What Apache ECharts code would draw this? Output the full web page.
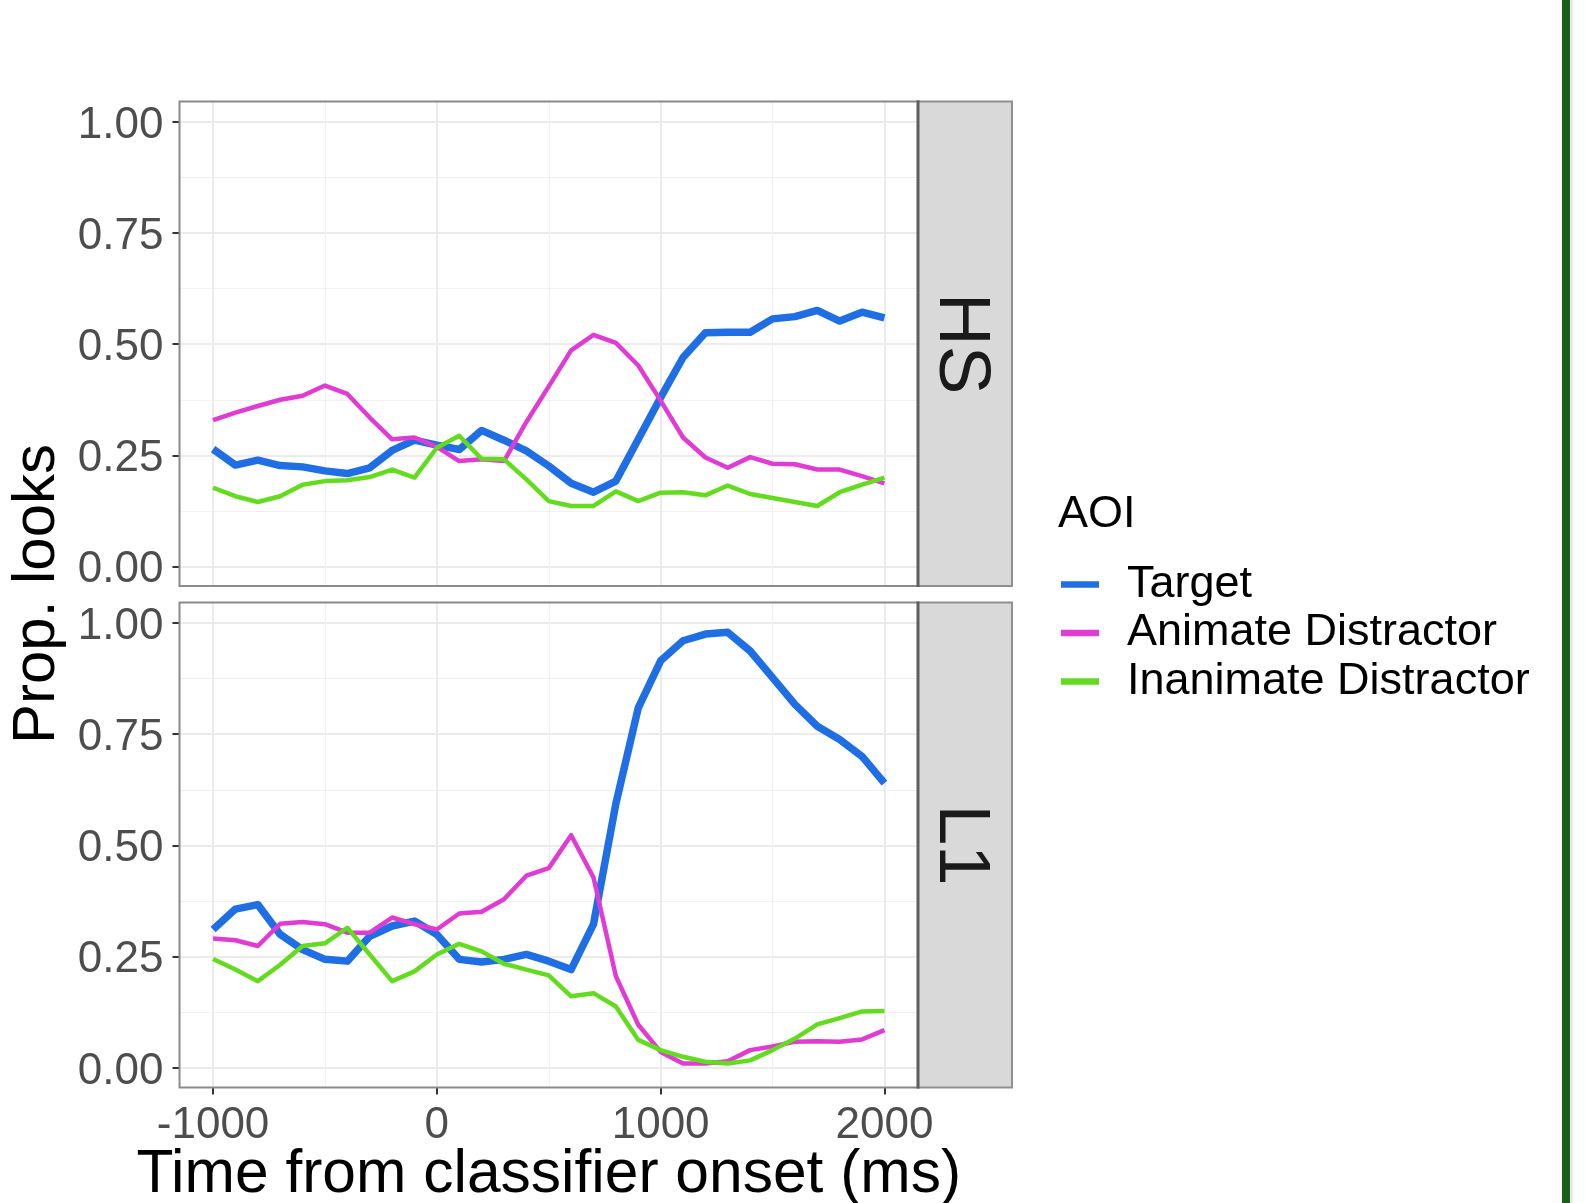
<!DOCTYPE html>
<html>
<head>
<meta charset="utf-8">
<script src="https://cdn.jsdelivr.net/npm/echarts@6/dist/echarts.min.js"></script>
<style>
html,body{margin:0;padding:0;background:#fff;}
#chart{width:1588px;height:1203px;}
</style>
</head>
<body>
<div id="chart"></div>
<script>
// ---- data ----
const timeMs = [-1000,-900,-800,-700,-600,-500,-400,-300,-200,-100,0,100,200,300,400,500,600,700,800,900,1000,1100,1200,1300,1400,1500,1600,1700,1800,1900,2000];
const seriesNames = ['Target','Animate Distractor','Inanimate Distractor'];
const panelNames = ['HS','L1'];

const hsTarget     = [0.264,0.228,0.239,0.227,0.224,0.215,0.209,0.222,0.261,0.284,0.273,0.263,0.306,0.284,0.260,0.226,0.187,0.167,0.192,0.286,0.380,0.470,0.526,0.527,0.527,0.557,0.562,0.576,0.552,0.572,0.559];
const hsAnimate    = [0.329,0.346,0.361,0.375,0.384,0.407,0.388,0.335,0.286,0.290,0.269,0.237,0.241,0.237,0.325,0.405,0.486,0.521,0.503,0.452,0.373,0.290,0.245,0.222,0.246,0.231,0.230,0.218,0.218,0.203,0.187];
const hsInanimate  = [0.177,0.158,0.145,0.158,0.184,0.192,0.194,0.201,0.218,0.200,0.267,0.294,0.242,0.241,0.196,0.147,0.136,0.136,0.169,0.147,0.166,0.167,0.160,0.182,0.163,0.154,0.145,0.136,0.167,0.184,0.200];

const l1Target     = [0.311,0.357,0.367,0.300,0.266,0.244,0.240,0.296,0.319,0.330,0.300,0.244,0.238,0.244,0.255,0.240,0.221,0.323,0.594,0.809,0.915,0.960,0.975,0.979,0.937,0.877,0.817,0.768,0.738,0.700,0.640];
const l1Animate    = [0.291,0.287,0.274,0.324,0.328,0.323,0.304,0.304,0.338,0.323,0.311,0.347,0.351,0.379,0.432,0.449,0.523,0.428,0.206,0.097,0.036,0.010,0.010,0.015,0.040,0.048,0.059,0.060,0.059,0.064,0.085];
const l1Inanimate  = [0.245,0.221,0.195,0.232,0.274,0.280,0.315,0.255,0.195,0.217,0.255,0.279,0.262,0.234,0.221,0.208,0.161,0.168,0.138,0.063,0.040,0.025,0.014,0.010,0.017,0.040,0.066,0.098,0.112,0.127,0.128];

const xMajorTicks = [-1000,0,1000,2000];
const xMinorTicks = [-500,500,1500];
const yMajorTicks = [0,0.25,0.5,0.75,1];
const yMinorTicks = [0.125,0.375,0.625,0.875];

// ---- styles ----
const colors = ['#1f6ee3','#e03bd2','#63db1f'];
const widths = [7.5,4.5,4.5];
const FONT = 'Liberation Sans, Arial, Helvetica, sans-serif';
const P = {left:179.5, width:738.5};
const panels = [{top:101.5,height:484.5},{top:602.5,height:485}];
const yMin = -0.044, yMax = 1.046, xMin = -1150, xMax = 2150;

const panelData = [[hsTarget,hsAnimate,hsInanimate],[l1Target,l1Animate,l1Inanimate]];

const grid = panels.map(p => ({left:P.left, top:p.top, width:P.width, height:p.height, show:false}));

const xAxis = [];
const yAxis = [];
panels.forEach((p, gi) => {
  const isBottom = gi === panels.length - 1;
  xAxis.push({
    type:'value', gridIndex:gi, min:xMin, max:xMax, position:'bottom',
    axisLine:{show:false, onZero:false},
    axisTick:{show:isBottom, customValues:xMajorTicks, length:7, lineStyle:{color:'#333', width:2}},
    axisLabel:{show:isBottom, customValues:xMajorTicks, fontSize:44, color:'#4d4d4d', margin:16, fontFamily:FONT,
      formatter: v => String(v)},
    splitLine:{show:true, lineStyle:{color:'#ebebeb', width:2}}
  });
  yAxis.push({
    type:'value', gridIndex:gi, min:yMin, max:yMax, position:'left',
    axisLine:{show:false, onZero:false},
    axisTick:{show:true, customValues:yMajorTicks, length:7, lineStyle:{color:'#333', width:2}},
    axisLabel:{show:true, customValues:yMajorTicks, margin:16,
      formatter: v => '{t|' + Number(v).toFixed(2) + '}',
      rich:{t:{fontSize:44, color:'#4d4d4d', fontFamily:FONT, padding:[7,0,0,0]}}},
    splitLine:{show:true, lineStyle:{color:'#ebebeb', width:2}}
  });
});
// minor grid axes
panels.forEach((p, gi) => {
  xAxis.push({
    type:'value', gridIndex:gi, min:xMin, max:xMax,
    axisLine:{show:false, onZero:false}, axisTick:{show:false, customValues:xMinorTicks}, axisLabel:{show:false, customValues:xMinorTicks},
    splitLine:{show:true, lineStyle:{color:'#f0f0f0', width:1.2}}
  });
  yAxis.push({
    type:'value', gridIndex:gi, min:yMin, max:yMax,
    axisLine:{show:false, onZero:false}, axisTick:{show:false, customValues:yMinorTicks}, axisLabel:{show:false, customValues:yMinorTicks},
    splitLine:{show:true, lineStyle:{color:'#f0f0f0', width:1.2}}
  });
});

const series = [];
panelData.forEach((arrs, gi) => {
  arrs.forEach((vals, si) => {
    series.push({
      name: seriesNames[si], type:'line', xAxisIndex:gi, yAxisIndex:gi,
      data: timeMs.map((t,i) => [t, vals[i]]),
      showSymbol:false, symbol:'none', smooth:false,
      lineStyle:{color:colors[si], width:widths[si], join:'round', cap:'butt'},
      itemStyle:{color:colors[si]},
      z: 3 + si,
      emphasis:{disabled:true}
    });
  });
});

const graphic = [];
panels.forEach((p, gi) => {
  graphic.push({type:'rect', z:100, silent:true, shape:{x:P.left, y:p.top, width:P.width, height:p.height},
    style:{fill:'none', stroke:'#8a8a8a', lineWidth:2}});
  graphic.push({type:'rect', z:100, silent:true, shape:{x:P.left+P.width, y:p.top, width:94, height:p.height},
    style:{fill:'#d9d9d9', stroke:'#8f8f8f', lineWidth:2}});
  graphic.push({type:'line', z:101, silent:true, shape:{x1:P.left+P.width, y1:p.top-1, x2:P.left+P.width, y2:p.top+p.height+1},
    style:{stroke:'#5e5e5e', lineWidth:3}});
  graphic.push({type:'text', z:102, silent:true, x:P.left+P.width+42, y:p.top+p.height/2, rotation:-Math.PI/2,
    style:{text:panelNames[gi], fontSize:73, fontFamily:FONT, fill:'#1a1a1a', align:'center', verticalAlign:'middle'}});
});
graphic.push({type:'text', silent:true, x:37, y:594, rotation:Math.PI/2,
  style:{text:'Prop. looks', fontSize:60, fontFamily:FONT, fill:'#000', align:'center', verticalAlign:'middle'}});
graphic.push({type:'text', silent:true, x:P.left+P.width/2, y:1175,
  style:{text:'Time from classifier onset (ms)', fontSize:60.5, fontFamily:FONT, fill:'#000', align:'center', verticalAlign:'middle'}});
graphic.push({type:'text', silent:true, x:1058, y:492,
  style:{text:'AOI', fontSize:45, fontFamily:FONT, fill:'#000', align:'left', verticalAlign:'top'}});
graphic.push({type:'rect', silent:true, shape:{x:1562, y:0, width:8, height:1203}, style:{fill:'#1c5f1c'}});
graphic.push({type:'rect', silent:true, shape:{x:1570, y:0, width:3, height:1203}, style:{fill:'#e8e8e8'}});

const option = {
  animation:false,
  backgroundColor:'#ffffff',
  textStyle:{fontFamily:FONT},
  grid, xAxis, yAxis, series, graphic,
  legend:{
    orient:'vertical', left:1056, top:557,
    data: seriesNames,
    icon:'rect', itemWidth:38, itemHeight:6.5, itemGap:3.5,
    selectedMode:false,
    textStyle:{fontSize:45, color:'#000', fontFamily:FONT, padding:[0,0,0,23]}
  }
};
const chart = echarts.init(document.getElementById('chart'), null, {renderer:'canvas'});
chart.setOption(option);
</script>
</body>
</html>
